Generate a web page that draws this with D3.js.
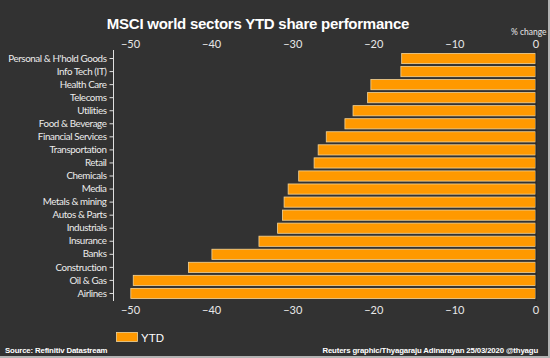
<!DOCTYPE html>
<html><head><meta charset="utf-8">
<script src="https://cdn.jsdelivr.net/npm/d3@7"></script>
<style>html,body{margin:0;padding:0;background:#333;}svg{display:block;}</style>
</head><body>
<script>
const categories = ["Personal & H'hold Goods","Info Tech (IT)","Health Care","Telecoms","Utilities","Food & Beverage","Financial Services","Transportation","Retail","Chemicals","Media","Metals & mining","Autos & Parts","Industrials","Insurance","Banks","Construction","Oil & Gas","Airlines"];
const ytd = [-16.5,-16.6,-20.3,-20.7,-22.5,-23.5,-25.8,-26.8,-27.3,-29.2,-30.5,-31.0,-31.2,-31.8,-34.1,-39.9,-42.8,-49.6,-49.9];
const tickValues = [-50,-40,-30,-20,-10,0];
const seriesName = "YTD";

const W = 550, H = 358;
const svg = d3.select("body").append("svg").attr("width", W).attr("height", H);
svg.append("rect").attr("width", W).attr("height", H).attr("fill", "#b4b4b4");
svg.append("rect").attr("x", 0).attr("y", 0).attr("width", 548).attr("height", 356).attr("fill", "#323232");

const x = d3.scaleLinear().domain([-50, 0]).range([130, 535.5]);
const y = d3.scaleBand().domain(categories).range([52, 300]).paddingInner(0.22).paddingOuter(0.11);

svg.append("text").attr("x", 258).attr("y", 29).attr("text-anchor", "middle")
  .attr("font-family", "Liberation Sans, Arial, sans-serif").attr("font-weight", "bold")
  .attr("font-size", 15).attr("letter-spacing", -0.25).attr("fill", "#ffffff").text("MSCI world sectors YTD share performance");

svg.append("text").attr("x", 546.5).attr("y", 35).attr("text-anchor", "end")
  .attr("font-family", "Lato, sans-serif").attr("font-size", 8.5).attr("fill", "#e8e8e8").text("% change");

// bars
svg.append("g").selectAll("rect").data(categories).join("rect")
  .attr("x", (d,i) => x(ytd[i]))
  .attr("y", d => y(d))
  .attr("width", (d,i) => x(0) - x(ytd[i]))
  .attr("height", y.bandwidth())
  .attr("fill", "#ff9900")
  .attr("stroke", "#f2d49a").attr("stroke-width", 0.8);

// zero line
svg.append("line").attr("x1", x(0)+0.5).attr("x2", x(0)+0.5).attr("y1", 50).attr("y2", 301)
  .attr("stroke", "#222").attr("stroke-width", 1);

// x axes (labels only)
const axStyle = g => {
  g.select(".domain").remove();
  g.selectAll(".tick line").remove();
  g.selectAll(".tick text").attr("font-family", "Lato, sans-serif").attr("font-size", 11).attr("fill", "#e8e8e8");
};
svg.append("g").attr("transform", "translate(0,48)")
  .call(d3.axisTop(x).tickValues(tickValues).tickSize(0).tickPadding(0).tickFormat(d3.format("d"))).call(axStyle);
svg.append("g").attr("transform", "translate(0,306)")
  .call(d3.axisBottom(x).tickValues(tickValues).tickSize(0).tickPadding(0).tickFormat(d3.format("d"))).call(axStyle);

// y axis
const ya = svg.append("g").attr("transform", "translate(113.5,0)")
  .call(d3.axisLeft(y).tickSize(4).tickSizeOuter(0).tickPadding(3));
ya.select(".domain").attr("stroke", "#e0e0e0").attr("d", "M0,50V301");
ya.selectAll(".tick line").attr("stroke", "#e0e0e0");
ya.selectAll(".tick text").attr("font-family", "Lato, sans-serif").attr("font-size", 9.8)
  .attr("letter-spacing", -0.4).attr("fill", "#ececec");

// legend
svg.append("rect").attr("x", 116.5).attr("y", 332.5).attr("width", 21).attr("height", 9)
  .attr("fill", "#ff9900").attr("stroke", "#f2d49a").attr("stroke-width", 0.8);
svg.append("text").attr("x", 141).attr("y", 341.5).attr("font-family", "Liberation Sans, Arial, sans-serif")
  .attr("font-size", 11.5).attr("fill", "#ffffff").text(seriesName);

// footer
svg.append("text").attr("x", 5).attr("y", 353).attr("font-family", "Liberation Sans, Arial, sans-serif")
  .attr("font-weight", "bold").attr("font-size", 7.8).attr("letter-spacing", -0.15).attr("fill", "#ffffff").text("Source: Refinitiv Datastream");
svg.append("text").attr("x", 538).attr("y", 353).attr("text-anchor", "end").attr("font-family", "Liberation Sans, Arial, sans-serif")
  .attr("font-weight", "bold").attr("font-size", 7.8).attr("letter-spacing", -0.15).attr("fill", "#ffffff").text("Reuters graphic/Thyagaraju Adinarayan 25/03/2020 @thyagu");
</script>
</body></html>
